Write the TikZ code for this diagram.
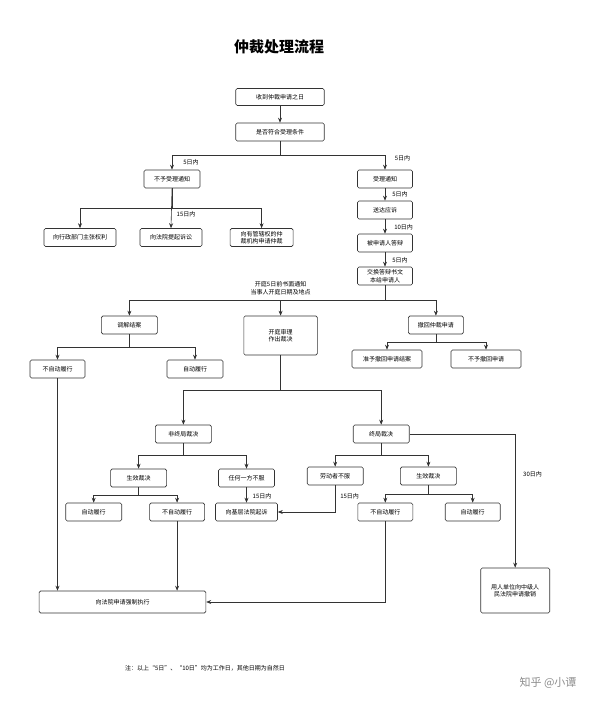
\documentclass[tikz,border=0pt]{standalone}
\usepackage{fontspec}
\setmainfont{Noto Sans CJK SC}
\usetikzlibrary{arrows.meta}
\tikzset{
  box/.style={draw=black!80,rounded corners=1.5pt,line width=0.6pt,minimum height=18pt,
    inner sep=1pt,align=center,font=\fontsize{6}{7.5}\selectfont},
  arr/.style={-{Stealth[length=5pt,width=4pt]},draw=black!80,line width=0.6pt},
  lbl/.style={font=\fontsize{6}{7.5}\selectfont,inner sep=0pt}
}
\begin{document}
\begin{tikzpicture}[x=1pt,y=-1pt]
    \useasboundingbox (0,0) rectangle (600,707);
    \node [font=\fontsize{15}{18}\selectfont\bfseries] (T) at (279,47) {仲裁处理流程};
    \node [box,minimum width=88.5pt,minimum height=17pt] (S) at (280,97) {收到仲裁申请之日};
    \node [box,minimum width=88.5pt] (C) at (280,132) {是否符合受理条件};
    \node [box,minimum width=56pt] (N) at (172,179) {不予受理通知};
    \node [box,minimum width=55pt] (A) at (385,179) {受理通知};
    \node [box,minimum width=72pt] (N1) at (80,237.5) {向行政部门主张权利};
    \node [box,minimum width=62pt] (N2) at (171,237.5) {向法院提起诉讼};
    \node [box,minimum width=63pt] (N3) at (261.6,237.5) {向有管辖权的仲\\裁机构申请仲裁};
    \node [box,minimum width=55pt] (A1) at (385,210) {送达应诉};
    \node [box,minimum width=55pt] (A2) at (385,243) {被申请人答辩};
    \node [box,minimum width=55pt] (A3) at (385,276) {交换答辩书文\\本给申请人};
    \node [lbl,align=center] (Tz) at (280.6,288) {开庭5日前书面通知\\当事人开庭日期及地点};
    \node [box,minimum width=56pt] (M) at (129.4,325) {调解结案};
    \node [box,minimum width=73.6pt,minimum height=39pt] (H) at (280.6,335.5) {开庭审理\\作出裁决};
    \node [box,minimum width=55pt] (W) at (435.9,325) {撤回仲裁申请};
    \node [box,minimum width=55pt] (M1) at (57.5,369) {不自动履行};
    \node [box,minimum width=56pt] (M2) at (195,369) {自动履行};
    \node [box,minimum width=70pt] (W1) at (387,359) {准予撤回申请结案};
    \node [box,minimum width=70pt] (W2) at (486,359) {不予撤回申请};
    \node [box,minimum width=56pt] (F) at (183.4,434) {非终局裁决};
    \node [box,minimum width=56pt] (Z) at (381.2,434) {终局裁决};
    \node [box,minimum width=56pt] (F1) at (138.6,478) {生效裁决};
    \node [box,minimum width=56pt] (F2) at (246.5,478) {任何一方不服};
    \node [box,minimum width=56pt] (F11) at (93.7,512) {自动履行};
    \node [box,minimum width=55pt] (F12) at (177.1,512) {不自动履行};
    \node [box,minimum width=62pt] (J) at (246.5,512) {向基层法院起诉};
    \node [box,minimum width=56pt] (Z1) at (335.2,476) {劳动者不服};
    \node [box,minimum width=56pt] (Z2) at (428.4,476) {生效裁决};
    \node [box,minimum width=55pt] (Z21) at (385.3,512) {不自动履行};
    \node [box,minimum width=55pt] (Z22) at (472.7,512) {自动履行};
    \node [box,minimum width=166.8pt,minimum height=22pt] (Q) at (122.5,602) {向法院申请强制执行};
    \node [box,minimum width=69pt,minimum height=45pt] (Y) at (515.2,590.5) {用人单位向中级人\\民法院申请撤销};
    \node [lbl] (Nt) at (205,668) {注：以上“5日”、“10日”均为工作日，其他日期为自然日};
    \node [font=\fontsize{11}{13}\selectfont,text=black!45] (Wm) at (548,683) {知乎 @小谭};

    \draw [arr] (S) -- (C);
    \draw [arr] (C.south) -- ++(0,14) -| (N.north);
    \draw [arr] (C.south) -- ++(0,14) -| (A.north);
    \node [lbl] at (191,162) {5日内};
    \node [lbl] at (402.5,158) {5日内};
    \draw [arr] (N.south) -- ++(0,20) -| (N1.north);
    \draw [arr] (N.south) -- (N2.north);
    \draw [arr] (N.south) -- ++(0,20) -| (N3.north);
    \node [lbl] at (186,214) {15日内};
    \draw [arr] (A) -- (A1);
    \draw [arr] (A1) -- (A2);
    \draw [arr] (A2) -- (A3);
    \node [lbl] at (400,194) {5日内};
    \node [lbl] at (403.6,227) {10日内};
    \node [lbl] at (400,260) {5日内};
    \draw [arr] (A3.south) -- ++(0,15) -| (M.north);
    \draw [arr] (A3.south) -- ++(0,15) -| (H.north);
    \draw [arr] (A3.south) -- ++(0,15) -| (W.north);
    \draw [arr] (M.south) -- ++(0,13) -| (M1.north);
    \draw [arr] (M.south) -- ++(0,13) -| (M2.north);
    \draw [arr] (W.south) -- ++(0,8) -| (W1.north);
    \draw [arr] (W.south) -- ++(0,8) -| (W2.north);
    \draw [arr] (H.south) -- ++(0,34.5) -| (F.north);
    \draw [arr] (H.south) -- ++(0,34.5) -| (Z.north);
    \draw [arr] (Z.east) -| (Y.north);
    \node [lbl] at (532.5,474) {30日内};
    \draw [arr] (F.south) -- ++(0,12) -| (F1.north);
    \draw [arr] (F.south) -- ++(0,12) -| (F2.north);
    \draw [arr] (F1.south) -- ++(0,8) -| (F11.north);
    \draw [arr] (F1.south) -- ++(0,8) -| (F12.north);
    \draw [arr] (F2) -- (J);
    \node [lbl] at (262,496) {15日内};
    \draw [arr] (Z.south) -- ++(0,12) -| (Z1.north);
    \draw [arr] (Z.south) -- ++(0,12) -| (Z2.north);
    \draw [arr] (Z1.south) |- (J.east);
    \node [lbl] at (349.6,496) {15日内};
    \draw [arr] (Z2.south) -- ++(0,9) -| (Z21.north);
    \draw [arr] (Z2.south) -- ++(0,9) -| (Z22.north);
    \draw [arr] (M1.south) -- (Q.north -| M1.south);
    \draw [arr] (F12.south) -- (Q.north -| F12.south);
    \draw [arr] (Z21.south) |- (Q.east);
\end{tikzpicture}
\end{document}
